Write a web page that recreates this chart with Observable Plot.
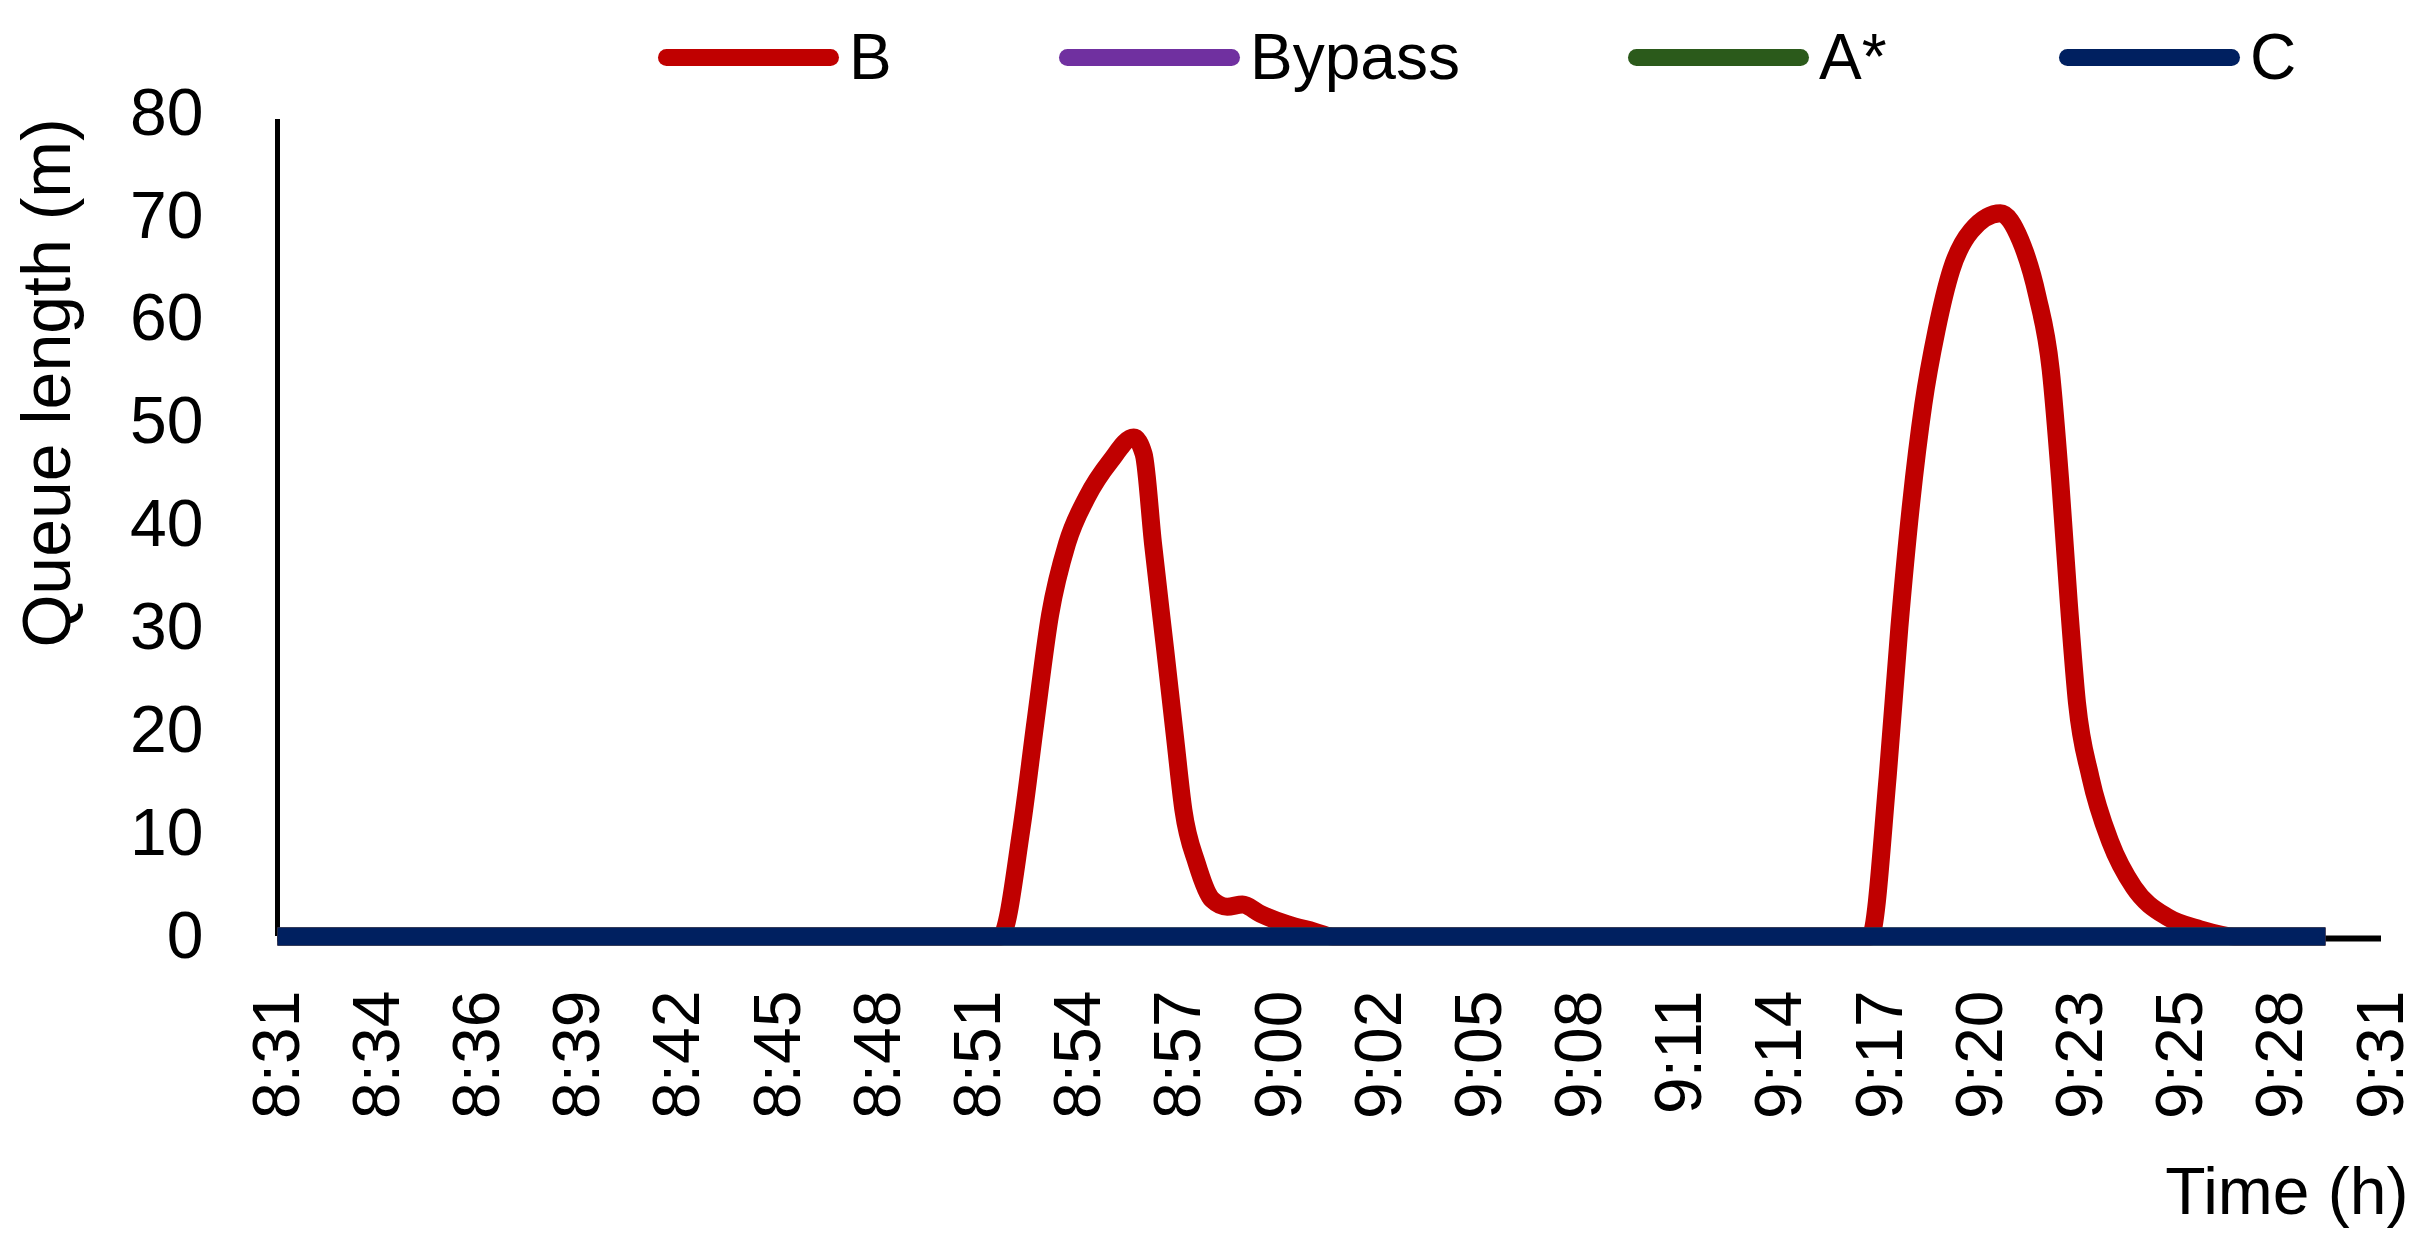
<!DOCTYPE html>
<html>
<head>
<meta charset="utf-8">
<script src="https://cdn.jsdelivr.net/npm/d3@7"></script>
<script src="https://cdn.jsdelivr.net/npm/@observablehq/plot@0.6"></script>
<style>
  html, body { margin: 0; padding: 0; background: #fff; }
  body { width: 2430px; height: 1255px; overflow: hidden; font-family: "Liberation Sans", Arial, sans-serif; }
  #legend { position: relative; width: 2430px; height: 90px; }
  .item { position: absolute; top: 24px; height: 66px; display: flex; align-items: center; font-size: 64px; color: #000; }
  .swatch { width: 181px; height: 17px; border-radius: 9px; margin-right: 10px; }
  svg { overflow: visible; display: block; }
</style>
</head>
<body>
<div id="legend"></div>
<div id="chart"></div>
<script>
// ---- data ----
const seriesNames = ["B", "Bypass", "A*", "C"];
const seriesColors = ["#C00000", "#7030A0", "#2B5A1B", "#002060"];

const xTickLabels = ["8:31","8:34","8:36","8:39","8:42","8:45","8:48","8:51","8:54","8:57","9:00",
                     "9:02","9:05","9:08","9:11","9:14","9:17","9:20","9:23","9:25","9:28","9:31"];
const yTicks = [0, 10, 20, 30, 40, 50, 60, 70, 80];

const bTimes = ["8:31:00","8:51:37","8:52:13","8:52:37","8:53:02","8:53:31","8:54:05","8:54:45","8:55:25",
                "8:55:42","8:55:58","8:56:19","8:56:36","8:56:50","8:57:13","8:57:39","8:58:05","8:58:31",
                "8:59:02","8:59:47","9:00:33","9:01:06",
                "9:16:25","9:16:55","9:17:15","9:17:35","9:17:56","9:18:19","9:18:44","9:19:18","9:20:08",
                "9:20:42","9:21:11","9:21:34","9:21:50","9:22:05","9:22:19","9:22:42","9:23:16","9:23:56",
                "9:24:53","9:25:50","9:26:48","9:29:24"];
const bValues = [0, 0, 10.5, 20.9, 31.3, 38.2, 42.7, 46.2, 48.5,
                 46.9, 38.2, 27.8, 19.2, 12.3, 7.1, 3.6, 2.9, 3.1,
                 2.2, 1.2, 0.5, 0,
                 0, 15.5, 30.0, 42.0, 51.7, 59.0, 64.8, 68.6, 70.3,
                 67.7, 62.3, 55.1, 44.5, 32.4, 22.7, 15.5, 9.2, 4.8,
                 1.9, 0.7, 0, 0];

const bypassTimes = ["8:31:00", "9:29:24"];
const bypassValues = [0, 0];
const aStarTimes = ["8:31:00", "9:29:24"];
const aStarValues = [0, 0];
const cTimes = ["8:31:00", "9:29:24"];
const cValues = [0, 0];

// ---- helpers ----
const startMin = 8 * 60 + 31;
const toMin = s => { const [h, m, sec] = s.split(":").map(Number); return h * 60 + m + (sec || 0) / 60 - startMin; };
const rows = (times, values) => times.map((t, i) => ({t: toMin(t), v: values[i]}));

const seriesData = [
  rows(bTimes, bValues),
  rows(bypassTimes, bypassValues),
  rows(aStarTimes, aStarValues),
  rows(cTimes, cValues)
];

// category labels are evenly spaced across the hour shown on the axis
const xTickValues = xTickLabels.map((_, i) => i * 60 / (xTickLabels.length - 1));

// ---- legend ----
const legendLeft = [658, 1059, 1628, 2059];
const legend = document.getElementById("legend");
seriesNames.forEach((name, i) => {
  const item = document.createElement("div");
  item.className = "item";
  item.style.left = legendLeft[i] + "px";
  const sw = document.createElement("span");
  sw.className = "swatch";
  sw.style.background = seriesColors[i];
  const tx = document.createElement("span");
  tx.textContent = name;
  item.appendChild(sw);
  item.appendChild(tx);
  legend.appendChild(item);
});

// ---- chart ----
const lineMarks = seriesData.map((data, i) => Plot.line(data, {
  x: "t", y: "v",
  stroke: seriesColors[i],
  strokeWidth: 18,
  curve: "monotone-x",
  strokeLinecap: "butt",
  strokeLinejoin: "round"
}));

const chart = Plot.plot({
  width: 2430,
  height: 1165,
  marginLeft: 277,
  marginRight: 49,
  marginTop: 23,
  marginBottom: 319,
  x: {domain: [0, 60]},
  y: {domain: [0, 80]},
  style: {fontFamily: "'Liberation Sans', Arial, sans-serif", fontSize: "66px", color: "#000", background: "#fff", overflow: "visible"},
  marks: [
    Plot.axisY({ticks: yTicks, tickSize: 0, tickPadding: 74, label: null, fontSize: 66}),
    Plot.axisX({ticks: xTickValues, tickFormat: d => xTickLabels[Math.round(d * (xTickLabels.length - 1) / 60)],
                tickRotate: -90, tickSize: 0, tickPadding: 54, label: null, fontSize: 66}),
    Plot.ruleX([0], {y1: 0, y2: 80, stroke: "#000", strokeWidth: 5, insetBottom: -6}),
    Plot.ruleY([0], {x1: 0, x2: 60, stroke: "#000", strokeWidth: 6, dy: 2}),
    ...lineMarks,
    Plot.text(["Time (h)"], {text: d => d, frameAnchor: "bottom-right", textAnchor: "end", lineAnchor: "middle", dx: 27, dy: 256, fontSize: 66, fill: "#000"}),
    Plot.text(["Queue length (m)"], {text: d => d, frameAnchor: "left", rotate: -90, textAnchor: "middle", lineAnchor: "middle", dx: -229, dy: -142, fontSize: 68, fill: "#000"})
  ]
});
document.getElementById("chart").appendChild(chart);
</script>
</body>
</html>
